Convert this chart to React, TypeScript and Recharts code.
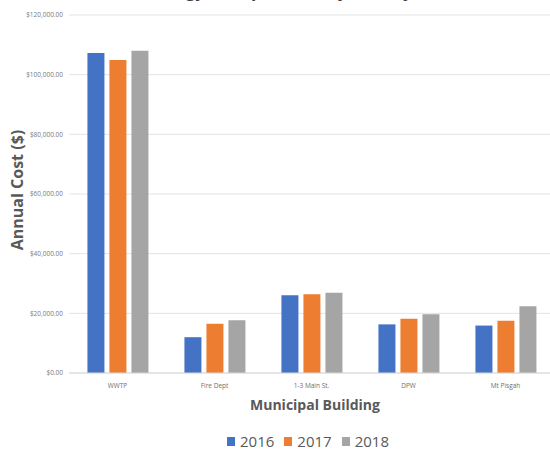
import { Bar, BarChart, CartesianGrid, XAxis, YAxis } from "recharts";

const buildings = ["WWTP", "Fire Dept", "1-3 Main St.", "DPW", "Mt Pisgah"];
const cost2016 = [107300, 12000, 26100, 16300, 15900];
const cost2017 = [104900, 16500, 26400, 18200, 17500];
const cost2018 = [108000, 17700, 26900, 19700, 22400];
const yTicks = [0, 20000, 40000, 60000, 80000, 100000, 120000];

const COLORS = {
  y2016: "#4472C4",
  y2017: "#ED7D31",
  y2018: "#A5A5A5",
};

const data = buildings.map((name, i) => ({
  name,
  y2016: cost2016[i],
  y2017: cost2017[i],
  y2018: cost2018[i],
}));

const money = (v: number) =>
  "$" + v.toLocaleString("en-US", { minimumFractionDigits: 2, maximumFractionDigits: 2 });

const legendItems = [
  { key: "y2016", label: "2016" },
  { key: "y2017", label: "2017" },
  { key: "y2018", label: "2018" },
] as const;

const font = "'Open Sans', 'Noto Sans', sans-serif";

export default function App() {
  return (
    <div
      style={{
        position: "absolute",
        left: 0,
        top: 0,
        width: 550,
        height: 452,
        overflow: "hidden",
        background: "#fff",
        fontFamily: font,
      }}
    >
      {/* title is mostly cropped off in the source image */}
      <div
        style={{
          position: "absolute",
          top: -19,
          left: 120,
          width: 320,
          textAlign: "center",
          fontSize: 17,
          lineHeight: "20px",
          fontWeight: 700,
          color: "#404040",
          whiteSpace: "nowrap",
        }}
      >
        Energy Cost per Year by Facility
      </div>

      <BarChart
        width={560}
        height={452}
        data={data}
        margin={{ top: 15, right: 6, bottom: 49, left: 0 }}
        barCategoryGap="19%"
        barGap={5}
      >
        <CartesianGrid vertical={false} stroke="#e3e3e3" />
        <XAxis
          dataKey="name"
          height={30}
          axisLine={{ stroke: "#d9d9d9" }}
          tickLine={false}
          tickMargin={4}
          tick={{ fontSize: 6.5, fill: "#6f6f6f", fontFamily: font }}
          interval={0}
        />
        <YAxis
          width={69}
          domain={[0, 120000]}
          ticks={yTicks}
          tickFormatter={money}
          axisLine={false}
          tickLine={false}
          tickSize={0}
          tickMargin={6}
          tick={{ fontSize: 6.5, fill: "#7a7a7a", fontFamily: font }}
        />
        <Bar dataKey="y2016" fill={COLORS.y2016} isAnimationActive={false} />
        <Bar dataKey="y2017" fill={COLORS.y2017} isAnimationActive={false} />
        <Bar dataKey="y2018" fill={COLORS.y2018} isAnimationActive={false} />
      </BarChart>

      <div
        style={{
          position: "absolute",
          left: 17,
          top: 190,
          transform: "translate(-50%, -50%) rotate(-90deg)",
          fontSize: 16,
          fontWeight: 700,
          color: "#595959",
          whiteSpace: "nowrap",
        }}
      >
        Annual Cost ($)
      </div>

      <div
        style={{
          position: "absolute",
          left: 315,
          top: 404,
          transform: "translate(-50%, -50%)",
          fontSize: 14,
          fontWeight: 700,
          color: "#595959",
          whiteSpace: "nowrap",
        }}
      >
        Municipal Building
      </div>

      <div
        style={{
          position: "absolute",
          left: 308,
          top: 441,
          transform: "translate(-50%, -50%)",
          display: "flex",
          alignItems: "center",
          gap: 10,
          fontSize: 15,
          color: "#595959",
          whiteSpace: "nowrap",
        }}
      >
        {legendItems.map((it) => (
          <div key={it.key} style={{ display: "flex", alignItems: "center", gap: 5 }}>
            <span style={{ width: 8, height: 9, background: COLORS[it.key], display: "inline-block" }} />
            <span>{it.label}</span>
          </div>
        ))}
      </div>
    </div>
  );
}
